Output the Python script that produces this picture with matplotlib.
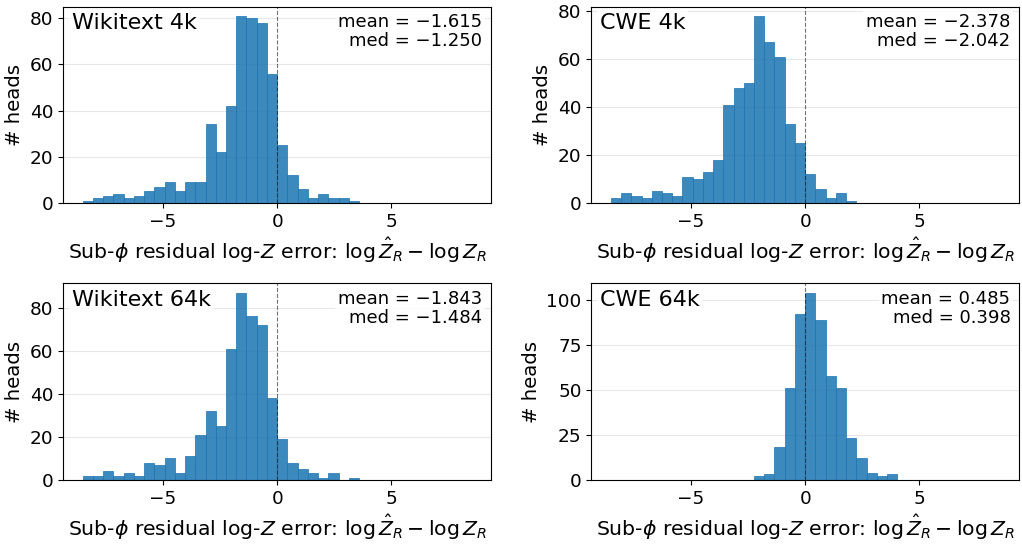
import numpy as np
import matplotlib
matplotlib.use("Agg")
import matplotlib.pyplot as plt
from matplotlib.ticker import MultipleLocator

# histogram bin edges (38 bins, shared by all panels)
edges = np.linspace(-8.5, 8.5, 39)

titles = ["Wikitext 4k", "CWE 4k", "Wikitext 64k", "CWE 64k"]
means = [-1.615, -2.378, -1.843, 0.485]
medians = [-1.250, -2.042, -1.484, 0.398]
ytick_steps = [20, 20, 20, 25]

wiki_4k = [1, 2, 3, 4, 2, 3, 5, 7, 9, 5, 9, 9, 34, 22, 42, 81, 80, 78, 56,
           25, 12, 6, 2, 4, 2, 2, 1] + [0] * 11
cwe_4k = [2, 4, 3, 2, 5, 4, 3, 11, 10, 13, 18, 41, 48, 50, 78, 67, 61, 33, 25,
          12, 6, 2, 4, 1] + [0] * 14
wiki_64k = [2, 2, 4, 2, 3, 2, 8, 7, 10, 3, 11, 21, 32, 25, 61, 87, 76, 72, 38,
            19, 8, 5, 3, 1, 3, 0, 1] + [0] * 11
cwe_64k = [0] * 14 + [2, 3, 18, 51, 92, 104, 89, 58, 51, 23, 12, 4, 2, 3] + [0] * 10

counts = [wiki_4k, cwe_4k, wiki_64k, cwe_64k]

centers = 0.5 * (edges[:-1] + edges[1:])

fig, axes = plt.subplots(2, 2, figsize=(10.22, 5.44), dpi=100)
fig.subplots_adjust(left=0.062, right=0.997, top=0.988, bottom=0.118,
                    wspace=0.235, hspace=0.41)

for ax, title, c, m, md, step in zip(axes.flat, titles, counts, means, medians,
                                     ytick_steps):
    ax.hist(centers, bins=edges, weights=c, color="C0", alpha=0.87,
            edgecolor="C0", linewidth=0.6, zorder=2)
    ax.axvline(0, color="k", ls="--", lw=0.8, alpha=0.55, zorder=3)
    ax.grid(axis="y", alpha=0.3, zorder=0)
    ax.set_axisbelow(True)
    ax.set_xlim(-9.35, 9.35)
    ax.set_xticks([-5, 0, 5])
    ax.yaxis.set_major_locator(MultipleLocator(step))
    ax.tick_params(labelsize=13.3)
    ax.set_xlabel(r"Sub-$\phi$ residual log-$Z$ error: $\log\hat{Z}_R - \log Z_R$",
                  fontsize=14.7)
    ax.set_ylabel("# heads", fontsize=14.2)
    box = dict(facecolor="white", edgecolor="none", alpha=0.85, pad=2)
    ax.text(0.02, 0.965, title, transform=ax.transAxes, fontsize=16,
            ha="left", va="top", bbox=box, zorder=4)
    stats = f"mean = {m:.3f}\nmed = {md:.3f}".replace("-", "\u2212")
    ax.text(0.98, 0.965, stats, transform=ax.transAxes, fontsize=13,
            ha="right", va="top", multialignment="right", bbox=box, zorder=4,
            linespacing=1.05)

fig.savefig("out.png")
